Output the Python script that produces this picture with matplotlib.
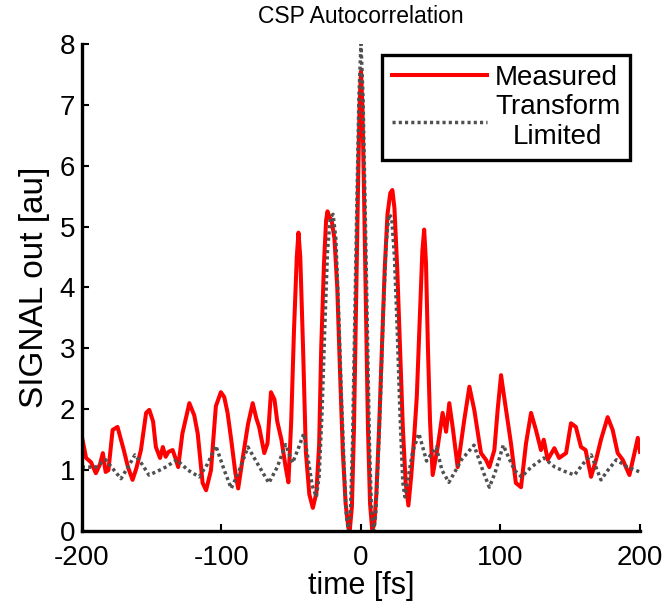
import matplotlib
matplotlib.use("Agg")
import matplotlib.pyplot as plt

# Measured autocorrelation (time [fs], signal [au])
meas_t = [-200, -197, -193.5, -190, -187, -185, -183, -181, -178, -174.5, -172, -170, -167, -163.7,
          -161, -157.7, -154, -151.7, -149, -147, -144, -142, -140, -138, -135, -133, -131, -128,
          -123, -119.5, -117, -113.5, -111, -107.5, -104, -100.4, -98, -95.6, -93, -90, -88, -85,
          -81, -77.6, -75, -73, -69.3, -67, -64.5, -62, -60, -57, -54, -52, -50, -48, -46, -44.8,
          -43.5, -41.5, -39.5, -37, -34.5, -32, -30, -28.5, -26.5, -25, -24, -22.5, -21, -19, -17,
          -15, -13, -11, -9, -8, -6.5, -5, -3.5, -2, -1, 0, 1, 2, 3.5, 5, 6.5, 8, 9.5, 11, 13, 15,
          17, 19, 21, 22.5, 24, 26, 28, 30, 32, 34, 36, 38, 40, 42, 44, 45.3, 46.6, 48, 49.5, 51.4,
          55, 58.5, 61, 63.3, 65.7, 69.3, 74, 77.7, 81.2, 86, 89.6, 92, 95.6, 98, 100.4, 102, 104,
          107.5, 111, 114.7, 118.3, 121.9, 125.4, 129, 131, 133.8, 138.6, 142, 147, 150.5, 154,
          157.7, 161, 164.9, 168.5, 172, 176.8, 180.4, 184, 187.6, 192.4, 196, 198.4, 200]
meas_y = [1.55, 1.2, 1.13, 0.95, 1.1, 1.28, 0.97, 1.0, 1.66, 1.71, 1.5, 1.33, 1.05, 0.84,
          1.03, 1.33, 1.94, 1.99, 1.8, 1.38, 1.2, 1.38, 1.22, 1.3, 1.33, 1.2, 1.05, 1.6,
          2.1, 1.9, 1.6, 0.79, 0.67, 1.0, 2.05, 2.28, 2.2, 1.94, 1.5, 0.95, 0.7, 1.16,
          1.75, 2.1, 1.85, 1.71, 1.28, 1.44, 2.28, 2.16, 1.8, 1.5, 1.05, 0.8, 1.8, 3.3, 4.5, 4.9,
          4.5, 3.0, 1.3, 0.6, 0.38, 0.62, 1.4, 3.0, 4.4, 5.1, 5.25, 5.15, 5.1, 4.8, 4.0,
          2.6, 1.3, 0.45, 0.05, 0.02, 0.4, 1.7, 3.8, 5.8, 7.0, 7.55, 7.0, 5.8, 3.8, 1.7, 0.45, 0.03, 0.1, 0.6, 1.7, 3.0,
          4.3, 5.2, 5.55, 5.6, 5.3, 4.3, 3.0, 1.7, 0.8, 0.42, 0.9, 1.5, 2.2, 3.4, 4.6, 4.95, 4.4, 3.0, 1.8, 0.92,
          1.38, 1.94, 1.63, 2.1, 1.71, 1.05, 1.82, 2.37, 1.99, 1.28, 1.17, 1.05, 1.33, 2.0, 2.56, 2.3, 1.99,
          1.44, 0.79, 0.72, 1.44, 1.94, 1.66, 1.33, 1.5, 1.17, 1.36, 1.2, 1.28, 1.77, 1.71,
          1.38, 1.33, 0.89, 1.17, 1.5, 1.87, 1.66, 1.28, 1.17, 0.92, 1.28, 1.53, 1.3]

# Transform-limited autocorrelation
tl_t = [-200, -190, -183, -177, -172, -167, -162, -157, -152, -146, -140, -132, -124, -116, -110,
        -104, -98, -93, -88, -81, -74, -66, -60, -54, -49, -45, -41, -38, -35, -32, -30, -28, -26,
        -24, -22, -20, -18, -16, -14, -12, -10.5, -9, -7.5, -6, -4.5, -3, -1.5, 0, 1.5, 3, 4.5, 6,
        7.5, 9, 10.5, 12, 14, 16, 18, 20, 22, 24, 26, 28, 30, 31.5, 34, 37, 41.5, 44, 47, 50, 54,
        58, 63, 68, 72, 81, 88, 92, 96, 102, 106, 110, 115, 122, 131, 139, 146, 153, 159, 165,
        172, 177, 183, 191, 200]
tl_y = [1.05, 1.05, 1.17, 1.0, 0.86, 1.05, 1.25, 1.1, 0.92, 0.98, 1.05, 1.17, 1.0, 0.89, 1.1,
        1.4, 1.0, 0.7, 0.95, 1.38, 1.1, 0.79, 1.05, 1.42, 1.12, 1.35, 1.6, 1.2, 0.75, 0.56, 0.9, 1.9, 3.3,
        4.6, 5.15, 5.2, 4.8, 3.6, 2.2, 1.0, 0.25, 0.0, 0.35, 1.5, 3.4, 5.3, 7.1, 8.0, 7.1, 5.3, 3.4, 1.5,
        0.35, 0.0, 0.25, 1.0, 2.2, 3.6, 4.7, 5.2, 5.15, 4.5, 3.3, 1.9, 0.8, 0.56, 0.9, 1.3, 1.6, 1.4, 1.15, 1.25, 1.38,
        1.0, 0.8, 1.0, 1.17, 1.41, 0.95, 0.72, 0.95, 1.41, 1.2, 1.0, 0.89, 1.05, 1.2, 1.05, 0.98, 0.92, 1.1, 1.25,
        0.84, 1.0, 1.17, 1.05, 0.97]

x_ticks = [-200, -100, 0, 100, 200]
y_ticks = [0, 1, 2, 3, 4, 5, 6, 7, 8]

plt.rcParams['font.family'] = ['Liberation Sans', 'DejaVu Sans']
plt.rcParams['axes.unicode_minus'] = False

fig = plt.figure(figsize=(6.66, 6.09), dpi=100)
ax = fig.add_axes([0.123, 0.128, 0.838, 0.800])

ax.plot(meas_t, meas_y, color='#ff0000', lw=2.9, label='Measured', solid_joinstyle='round')
ax.plot(tl_t, tl_y, color='#505050', lw=2.5, linestyle=(0, (0.9, 0.9)), label='Transform\nLimited')

ax.set_xlim(-200, 200)
ax.set_ylim(0, 8)
ax.set_xticks(x_ticks)
ax.set_yticks(y_ticks)
ax.tick_params(direction='in', length=5, width=1.5, labelsize=20)
ax.tick_params(axis='x', pad=10)
ax.tick_params(axis='y', pad=5)
for lbl in ax.get_yticklabels():
    lbl.set_verticalalignment('center_baseline')
for s in ['top', 'right']:
    ax.spines[s].set_visible(False)
for s in ['left', 'bottom']:
    ax.spines[s].set_linewidth(2.4)

ax.set_xlabel('time [fs]', fontsize=22, labelpad=0)
ax.set_ylabel('SIGNAL out [au]', fontsize=24, labelpad=7)
ax.set_title('CSP Autocorrelation', fontsize=16.5, pad=15)

leg = ax.legend(loc='upper right', bbox_to_anchor=(0.982, 0.977), borderaxespad=0,
                fontsize=20, fancybox=False, framealpha=1, edgecolor='black',
                handlelength=3.4, handletextpad=0.3, labelspacing=0.12, borderpad=0.35)
leg.get_frame().set_linewidth(2.4)
leg.get_texts()[1].set_multialignment('center')

fig.savefig('out.png', dpi=100)
